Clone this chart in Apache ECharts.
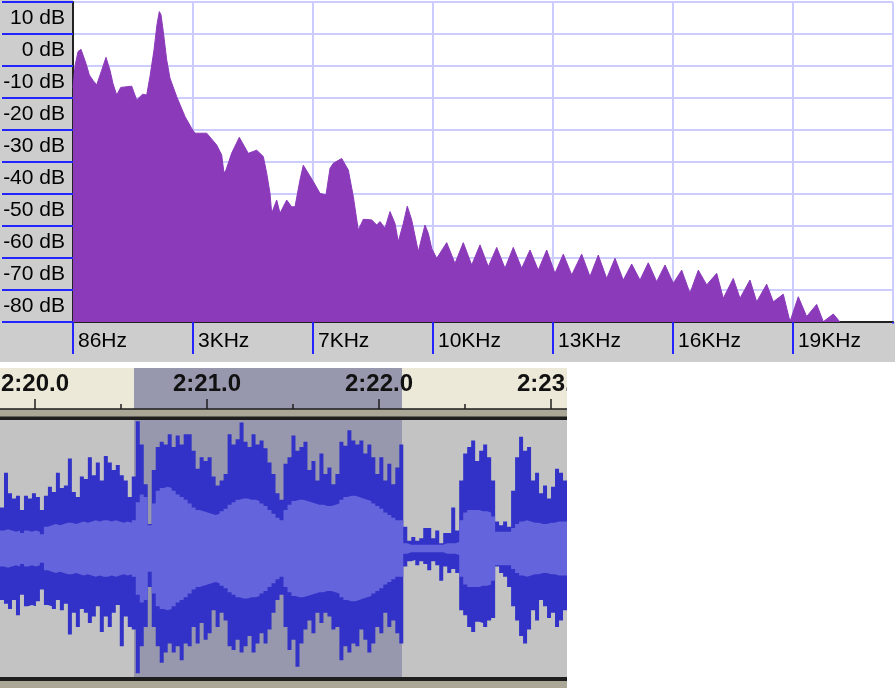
<!DOCTYPE html>
<html><head><meta charset="utf-8">
<script src="https://cdn.jsdelivr.net/npm/echarts@6/dist/echarts.min.js"></script>
<style>html,body{margin:0;padding:0;background:#fff;}#c{width:895px;height:688px;}</style>
</head><body><div id="c"></div>
<script>
// ---- Spectrum (frequency analysis) ----
const specHz = [86,140,220,300,434,523,622,721,855,970,1077,1157,1257,1364,1658,1792,1953,2060,2148,2256,2336,2398,2443,2505,2596,2684,2864,3086,3265,3354,3667,3935,4069,4131,4184,4337,4540,4781,5006,5183,5274,5363,5408,5542,5631,5810,5944,6032,6166,6255,6522,6702,6863,6970,7058,7283,7460,7594,7728,7862,8087,8221,8309,8443,8577,8711,8799,8933,9040,9158,9335,9514,9603,9694,9828,
10096,10318,10540,10765,10988,11210,11435,11657,11879,12104,12327,12549,12774,12996,13219,13444,13712,13934,14156,14381,14604,14826,15051,15273,15495,15720,15943,16165,16390,16612,16835,17060,17328,17504,17772,17952,18219,18399,18667,18844,19111,19291,19513,19738,20006,20183,20451,20630];
const specDb = [-11.7,-5,-0.5,0.2,-4.2,-7.8,-9.5,-10.9,-6.3,-2.3,-6.3,-10.5,-14.1,-11.7,-11.3,-15.6,-13.8,-14.1,-8.3,0,8,12,11,5.7,-3.1,-8.8,-14.6,-20.8,-24.5,-26,-26,-29.7,-32.8,-38.5,-37.5,-32.2,-27.3,-32.3,-31.3,-33.3,-38.5,-44.8,-51,-46.9,-51,-46.9,-49,-49,-40.6,-36,-41.1,-44.8,-45.3,-37,-35.4,-33.9,-37.5,-45.8,-56.3,-52.9,-53.1,-54.7,-53.6,-55.7,-50.5,-54.2,-59.9,-54.2,-48.8,-53.1,-63,-54.7,-57.3,-62,-65.1,
-60.2,-66.7,-60.2,-67.2,-60.9,-67.7,-61.7,-68.2,-61.7,-68.2,-62.5,-68.8,-62.5,-69.8,-63.8,-70.3,-63.8,-70.8,-64.1,-71.4,-65.1,-71.9,-66.9,-71.9,-66.5,-72.4,-67.2,-72.9,-68.8,-76,-68.8,-73.4,-69.8,-77.6,-71.4,-77.6,-71.9,-78.7,-73.2,-78.7,-76.3,-84.9,-77.1,-83.3,-79.5,-84.9,-82.5,-85];
const specTickLabels = ['86Hz','3KHz','7KHz','10KHz','13KHz','16KHz','19KHz'];
const dbLabelValues = [-80,-70,-60,-50,-40,-30,-20,-10,0,10];

// ---- Waveform (one column per 4 px) ----
const peakHi = [0.32,0.59,0.43,0.39,0.41,0.30,0.41,0.39,0.43,0.40,0.30,0.41,0.48,0.44,0.59,0.47,0.49,0.70,0.44,0.40,
0.56,0.54,0.71,0.57,0.67,0.53,0.72,0.67,0.61,0.65,0.57,0.53,0.40,0.56,0.99,0.81,0.50,0.19,0.61,0.79,
0.83,0.81,0.89,0.79,0.88,0.81,0.89,0.89,0.76,0.62,0.71,0.68,0.71,0.56,0.49,0.53,0.58,0.89,0.81,0.85,
0.98,0.83,0.79,0.89,0.81,0.84,0.78,0.67,0.58,0.43,0.38,0.66,0.71,0.88,0.76,0.79,0.83,0.61,0.68,0.53,
0.74,0.58,0.63,0.50,0.58,0.83,0.80,0.92,0.84,0.81,0.84,0.74,0.81,0.71,0.58,0.71,0.53,0.66,0.50,0.63,
0.81,0.17,0.06,0.09,0.06,0.08,0.16,0.16,0.08,0.14,0.04,0.12,0.12,0.32,0.14,0.53,0.74,0.79,0.84,0.68,
0.76,0.81,0.71,0.53,0.21,0.18,0.21,0.17,0.45,0.71,0.87,0.76,0.79,0.53,0.59,0.43,0.49,0.39,0.48,0.62,
0.59,0.53];
const peakLo = [-0.40,-0.43,-0.47,-0.40,-0.52,-0.36,-0.45,-0.44,-0.45,-0.41,-0.32,-0.44,-0.45,-0.47,-0.40,-0.48,-0.43,-0.67,-0.50,-0.61,
-0.47,-0.50,-0.58,-0.53,-0.45,-0.65,-0.53,-0.61,-0.50,-0.44,-0.76,-0.53,-0.61,-0.63,-0.97,-0.76,-0.61,-0.30,-0.61,-0.76,
-0.89,-0.81,-0.74,-0.81,-0.76,-0.87,-0.74,-0.76,-0.61,-0.74,-0.58,-0.71,-0.66,-0.48,-0.61,-0.50,-0.56,-0.76,-0.79,-0.71,
-0.81,-0.76,-0.68,-0.81,-0.74,-0.66,-0.74,-0.63,-0.50,-0.40,-0.36,-0.61,-0.79,-0.71,-0.92,-0.74,-0.63,-0.56,-0.66,-0.50,
-0.58,-0.50,-0.53,-0.63,-0.61,-0.87,-0.76,-0.81,-0.74,-0.76,-0.63,-0.71,-0.81,-0.74,-0.61,-0.66,-0.50,-0.61,-0.56,-0.66,
-0.74,-0.14,-0.10,-0.09,-0.13,-0.10,-0.12,-0.17,-0.10,-0.13,-0.25,-0.14,-0.19,-0.16,-0.19,-0.48,-0.52,-0.61,-0.65,-0.57,
-0.58,-0.61,-0.56,-0.54,-0.14,-0.19,-0.22,-0.30,-0.45,-0.56,-0.68,-0.74,-0.63,-0.48,-0.56,-0.40,-0.45,-0.54,-0.50,-0.61,
-0.56,-0.48];
const rmsLevel = [0.14,0.15,0.14,0.13,0.14,0.12,0.14,0.13,0.14,0.13,0.11,
0.17,0.18,0.19,0.18,0.19,0.20,0.20,0.19,0.20,0.21,0.20,0.21,0.22,0.21,0.22,0.22,0.21,0.22,0.21,0.20,0.21,0.20,0.22,
0.36,
0.42,0.40,0.18,0.35,0.45,0.47,0.48,0.47,0.45,0.42,0.40,0.38,0.35,0.32,0.30,0.29,0.28,0.27,0.26,0.27,0.29,0.31,0.34,0.36,0.38,0.39,0.39,0.38,0.38,0.37,0.35,0.33,0.30,0.27,0.24,0.22,
0.30,0.34,0.37,0.38,0.38,0.37,0.36,0.35,0.34,0.34,0.33,0.33,0.34,0.35,0.38,0.40,0.41,0.41,0.40,0.39,0.38,0.37,0.35,0.33,0.31,0.28,0.26,0.24,0.22,0.22,
0.04,0.03,0.03,0.03,0.03,0.03,0.03,0.03,0.03,0.03,0.04,0.04,0.04,0.05,
0.22,0.28,0.30,0.30,0.30,0.29,0.29,0.28,0.25,0.13,0.13,0.13,0.13,0.16,0.19,0.21,0.22,0.21,0.20,0.20,0.19,0.19,0.20,0.20,0.21,0.21,0.21];
const rulerLabels = ['2:19.0','2:20.0','2:21.0','2:22.0','2:23.0','2:24.0'];

const FONT = '"Liberation Sans", Arial, sans-serif';
const PURPLE = '#8b3aba';
const PEAK = '#3232c8';
const RMS = '#6464dc';
const PANEL = '#cdcdcd';
const SEL = '#9797ae';

const chart = echarts.init(document.getElementById('c'), null, {renderer: 'canvas'});
const specData = specHz.map((h, i) => [h, specDb[i]]);
// column i spans [i, i+1]; the last column's value is held to the right edge
const colSeries = arr => arr.map((v, i) => [i, v]).concat([[arr.length, arr[arr.length - 1]]]);
const waveLine = (arr, c, extra) => Object.assign({
  type: 'line', xAxisIndex: 1, yAxisIndex: 2, data: colSeries(arr), step: 'end',
  showSymbol: false, symbol: 'none', silent: true, clip: true,
  lineStyle: {width: 0, color: c}, areaStyle: {color: c, opacity: 1, origin: 'auto'}
}, extra || {});

chart.setOption({
  animation: false,
  backgroundColor: '#ffffff',
  grid: [
    {left: 73, top: 2, width: 820, height: 320, show: true, backgroundColor: '#ffffff', borderColor: '#333', borderWidth: 1, containLabel: false, outerBoundsMode: 'none'},
    {left: 0, top: 420, width: 567, height: 257, show: true, backgroundColor: '#c3c3c3', borderWidth: 0, containLabel: false, outerBoundsMode: 'none'},
    {left: -137, top: 409, width: 860, height: 8, containLabel: false, outerBoundsMode: 'none'}
  ],
  xAxis: [
    {gridIndex: 0, type: 'value', min: 86, max: 22050, interval: 3214,
     axisLine: {show: true, onZero: false, lineStyle: {color: '#222', width: 2}},
     axisTick: {show: true, length: 32, lineStyle: {color: '#2424ff', width: 2}},
     axisLabel: {formatter: (v, i) => specTickLabels[i] || '', align: 'left', padding: [0, 0, 0, 5], margin: 9,
                 fontSize: 21, color: '#000', fontFamily: FONT, showMinLabel: true, showMaxLabel: true},
     splitLine: {show: true, lineStyle: {color: '#ccccff', width: 2}}},
    {gridIndex: 1, type: 'value', min: 0, max: peakHi.length, show: false},
    {gridIndex: 2, type: 'value', position: 'top', min: 139, max: 144, interval: 1,
     axisLine: {show: true, onZero: false, lineStyle: {color: '#1e1e1e', width: 1.5}},
     axisTick: {show: true, length: 10, lineStyle: {color: '#1e1e1e', width: 1.5}},
     minorTick: {show: true, splitNumber: 2, length: 5, lineStyle: {color: '#1e1e1e', width: 1.5}},
     axisLabel: {formatter: (v, i) => rulerLabels[i] || '', fontFamily: FONT, fontSize: 24, fontWeight: 'bold', color: '#111', margin: 13, showMinLabel: true, showMaxLabel: true},
     splitLine: {show: false}}
  ],
  yAxis: [
    {gridIndex: 0, type: 'value', min: -85, max: 15, interval: 10,
     axisLine: {show: true, onZero: false, lineStyle: {color: '#222', width: 2}},
     axisTick: {show: true, length: 71, lineStyle: {color: '#2424ff', width: 2}},
     axisLabel: {show: false},
     splitLine: {show: true, lineStyle: {color: '#ccccff', width: 2}}},
    {gridIndex: 0, type: 'value', position: 'left', min: -85, max: 15, interval: 5,
     axisLine: {show: false}, axisTick: {show: false}, splitLine: {show: false},
     axisLabel: {formatter: v => dbLabelValues.indexOf(Math.round(v)) >= 0 ? Math.round(v) + ' dB' : '',
                 fontSize: 21, color: '#000', fontFamily: FONT, margin: 8, showMinLabel: true, showMaxLabel: true}},
    {gridIndex: 1, type: 'value', min: -1, max: 1, show: false},
    {gridIndex: 2, type: 'value', min: 0, max: 1, show: false}
  ],
  series: [
    {type: 'line', xAxisIndex: 0, yAxisIndex: 0, data: specData, showSymbol: false, symbol: 'none', silent: true, clip: true,
     lineStyle: {color: PURPLE, width: 1}, areaStyle: {color: PURPLE, opacity: 1, origin: 'start'}},
    waveLine(peakHi, PEAK),
    waveLine(peakLo, PEAK),
    waveLine(rmsLevel, RMS),
    waveLine(rmsLevel.map(v => -v), RMS, {
      markLine: {silent: true, symbol: 'none', animation: false, label: {show: false},
                 lineStyle: {color: RMS, width: 2, type: 'solid'}, data: [{yAxis: 0}]}
    })
  ],
  graphic: [
    {type: 'rect', z: -1, silent: true, shape: {x: 0, y: 0, width: 73, height: 322}, style: {fill: PANEL}},
    {type: 'rect', z: -1, silent: true, shape: {x: 0, y: 322, width: 895, height: 40}, style: {fill: PANEL}},
    {type: 'rect', z: -2, silent: true, shape: {x: 0, y: 368, width: 567, height: 41}, style: {fill: '#ece9d8'}},
    {type: 'rect', z: -1, silent: true, shape: {x: 134, y: 368, width: 268, height: 41}, style: {fill: SEL}},
    {type: 'rect', z: -1, silent: true, shape: {x: 0, y: 409, width: 567, height: 8}, style: {fill: '#aba796'}},
    {type: 'rect', z: 5, silent: true, shape: {x: 0, y: 416.5, width: 567, height: 3.5}, style: {fill: '#1e1e1e'}},
    {type: 'rect', z: 1, silent: true, shape: {x: 134, y: 420, width: 268, height: 257}, style: {fill: SEL}},
    {type: 'rect', z: 5, silent: true, shape: {x: 0, y: 677, width: 567, height: 4}, style: {fill: '#1e1e1e'}},
    {type: 'rect', z: 5, silent: true, shape: {x: 0, y: 681, width: 567, height: 7}, style: {fill: '#aba796'}},
    {type: 'rect', z: 100, silent: true, shape: {x: 567, y: 364, width: 328, height: 324}, style: {fill: '#ffffff'}},
    {type: 'rect', z: 100, silent: true, shape: {x: 890, y: 323.5, width: 5, height: 38.5}, style: {fill: PANEL}}
  ]
});
</script>
</body></html>
